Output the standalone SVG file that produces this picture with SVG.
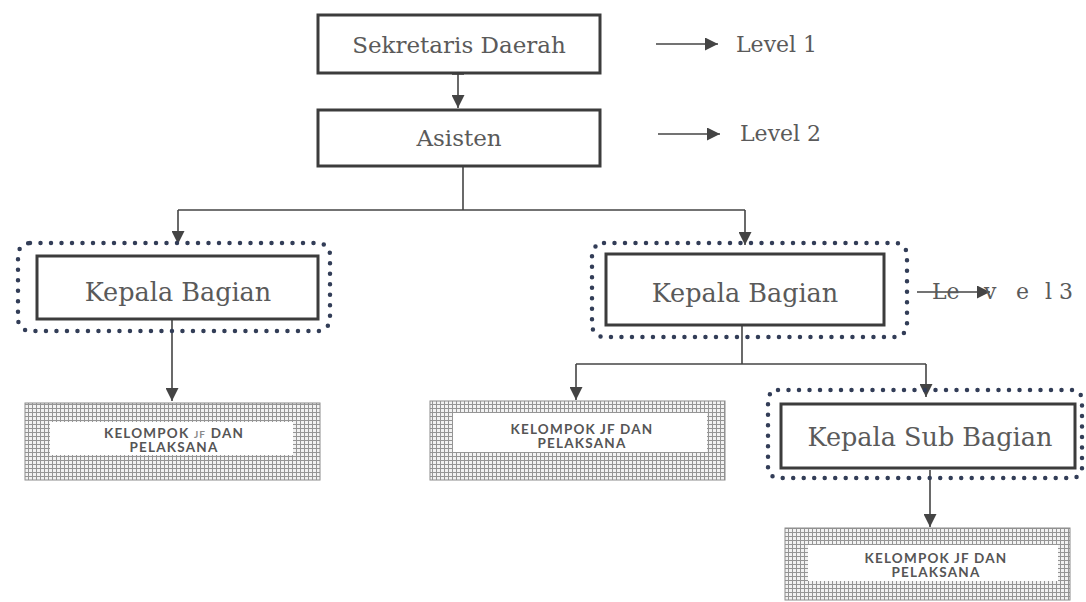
<svg xmlns="http://www.w3.org/2000/svg" width="1086" height="602" viewBox="0 0 1086 602">
  <defs>
    <marker id="head" viewBox="0 0 10 10" refX="10" refY="5" markerWidth="13" markerHeight="13" markerUnits="userSpaceOnUse" orient="auto">
      <path d="M0,0 L10,5 L0,10 z" fill="#444"/>
    </marker>
    <pattern id="grid" width="4" height="4" patternUnits="userSpaceOnUse">
      <rect width="4" height="4" fill="#f2f2f2"/>
      <path d="M0,0.5 H4 M0.5,0 V4" stroke="#959595" stroke-width="1"/>
    </pattern>
  </defs>
  <style>
    .box { fill: #fff; stroke: #3c3c3c; stroke-width: 3; }
    .frame { fill: none; stroke: #323d57; stroke-width: 4.5; stroke-dasharray: 0 10.5; stroke-linecap: round; }
    .grid { fill: url(#grid); stroke: #8c8c8c; stroke-width: 1; }
    .hole { fill: #fff; }
    .lbl { font-family: "DejaVu Serif", "Liberation Serif", serif; font-size: 23px; fill: #5a5a5a; text-anchor: middle; }
    .big { font-size: 25.5px; }
    .lvl { font-family: "DejaVu Serif", "Liberation Serif", serif; font-size: 22px; fill: #5a5a5a; }
    .grp { font-family: Lato, "Liberation Sans", sans-serif; font-weight: bold; font-size: 13.5px; letter-spacing: 1.2px; fill: #555; text-anchor: middle; }
    .wire { fill: none; stroke: #444; stroke-width: 1.6; }
  </style>

  <rect width="1086" height="602" fill="#fff"/>

  <!-- connectors -->
  <g id="connectors">
    <path class="wire" d="M452,74 H464"/>
    <path class="wire" d="M458,74 V108" marker-end="url(#head)"/>
    <path class="wire" d="M463,166 V210"/>
    <path class="wire" d="M178,210 H745"/>
    <path class="wire" d="M178,210 V244" marker-end="url(#head)"/>
    <path class="wire" d="M745,210 V245" marker-end="url(#head)"/>
    <path class="wire" d="M172,319 V401" marker-end="url(#head)"/>
    <path class="wire" d="M742,325 V364"/>
    <path class="wire" d="M576,364 H926"/>
    <path class="wire" d="M576,364 V400" marker-end="url(#head)"/>
    <path class="wire" d="M926,364 V397" marker-end="url(#head)"/>
    <path class="wire" d="M930,470 V527" marker-end="url(#head)"/>
    <path class="wire" d="M656,44 H718" marker-end="url(#head)"/>
    <path class="wire" d="M658,134 H720" marker-end="url(#head)"/>
    <path class="wire" d="M917,292 H990" marker-end="url(#head)"/>
  </g>

  <!-- level 1 -->
  <g id="sekda">
    <rect class="box" x="318" y="15" width="282" height="58"/>
    <text class="lbl" x="459" y="53">Sekretaris Daerah</text>
  </g>
  <text id="level1" class="lvl" x="736" y="52">Level 1</text>

  <!-- level 2 -->
  <g id="asisten">
    <rect class="box" x="318" y="110" width="282" height="56"/>
    <text class="lbl" x="459" y="146">Asisten</text>
  </g>
  <text id="level2" class="lvl" x="740" y="141">Level 2</text>

  <!-- level 3, left branch -->
  <g id="kabag-left">
    <rect class="frame" x="18" y="243" width="312" height="88" rx="12"/>
    <rect class="box" x="37" y="256" width="281" height="63"/>
    <text class="lbl big" x="178" y="301">Kepala Bagian</text>
  </g>
  <g id="jf-left">
    <rect class="grid" x="25" y="403" width="295" height="77"/>
    <rect class="hole" x="50" y="422" width="243" height="33"/>
    <text class="grp" x="174" y="438">KELOMPOK <tspan font-size="10" fill="#8a8a8a">JF</tspan> DAN</text>
    <text class="grp" x="174" y="452">PELAKSANA</text>
  </g>

  <!-- level 3, right branch -->
  <g id="kabag-right">
    <rect class="frame" x="592" y="243" width="315" height="94" rx="12"/>
    <rect class="box" x="606" y="254" width="278" height="71"/>
    <text class="lbl big" x="745" y="302">Kepala Bagian</text>
  </g>
  <text id="level3" class="lvl" y="299"><tspan x="932">Le</tspan><tspan x="984">v</tspan><tspan x="1016">e</tspan><tspan x="1045">l</tspan><tspan x="1059">3</tspan></text>

  <g id="jf-mid">
    <rect class="grid" x="430" y="401" width="295" height="79"/>
    <rect class="hole" x="453" y="413" width="254" height="39"/>
    <text class="grp" x="582" y="434">KELOMPOK JF DAN</text>
    <text class="grp" x="582" y="448">PELAKSANA</text>
  </g>

  <g id="kasubag">
    <rect class="frame" x="768" y="390" width="314" height="88" rx="10"/>
    <rect class="box" x="781" y="404" width="294" height="64"/>
    <text class="lbl big" x="930" y="446">Kepala Sub Bagian</text>
  </g>

  <g id="jf-right">
    <rect class="grid" x="785" y="528" width="285" height="72"/>
    <rect class="hole" x="808" y="545" width="250" height="36"/>
    <text class="grp" x="936" y="563">KELOMPOK JF DAN</text>
    <text class="grp" x="936" y="577">PELAKSANA</text>
  </g>
</svg>
